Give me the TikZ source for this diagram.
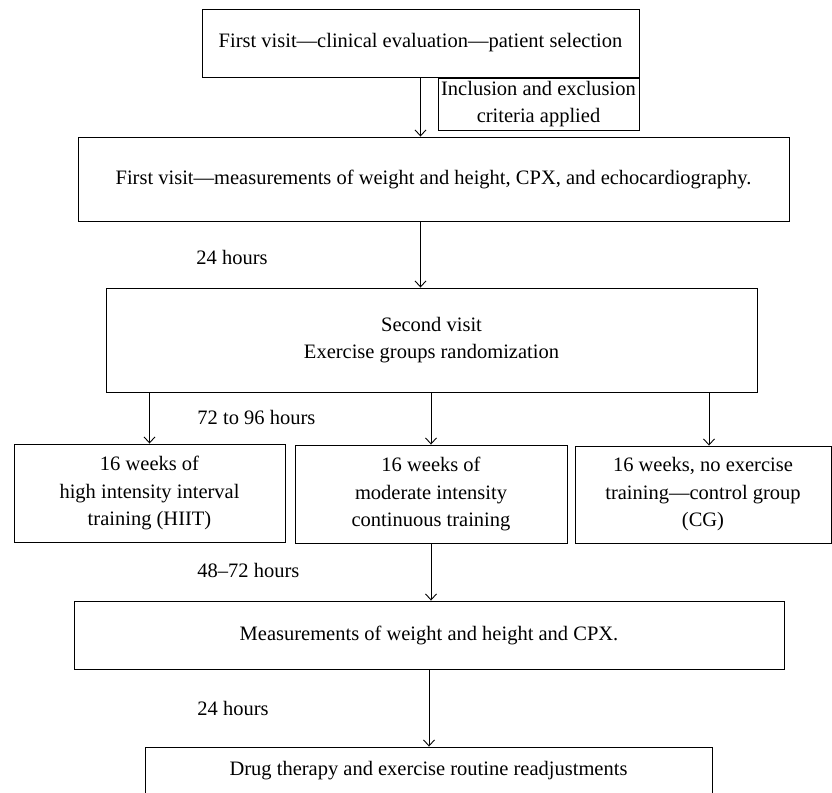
\documentclass[tikz,border=0pt]{standalone}
\usepackage{fontspec}
\setmainfont{Liberation Serif}
\usetikzlibrary{arrows.meta}

\begin{document}
\begin{tikzpicture}[x=1pt,y=-1pt,->,>={Straight Barb[length=6pt,width=11pt]},line width=0.9pt,
		box/.style={draw,rectangle,align=center,inner sep=0pt,font=\fontsize{20.5}{27.5}\selectfont},
		hours/.style={anchor=west,inner sep=0pt,font=\fontsize{20.5}{27.5}\selectfont}]
	\useasboundingbox (0,0) rectangle (832,792);
	\node[box,minimum width=437pt,minimum height=68pt] (visit) at (420.5,43) {First visit---clinical evaluation---patient selection};
	\node[box,minimum width=201pt,minimum height=52pt] (criteria) at (538.5,104) {Inclusion and exclusion\\criteria applied};
	\node[box,minimum width=711pt,minimum height=84pt] (measure) at (433.5,179) {First visit---measurements of weight and height, CPX, and echocardiography.};
	\node[box,minimum width=651pt,minimum height=104pt] (random) at (431.5,340) {Second visit\\Exercise groups randomization};
	\node[box,minimum width=271pt,minimum height=98pt] (hiit) at (149.5,493) {16 weeks of\\high intensity interval\\training (HIIT)};
	\node[box,minimum width=272pt,minimum height=98pt] (mict) at (431,494) {16 weeks of\\moderate intensity\\continuous training};
	\node[box,minimum width=256pt,minimum height=97pt] (control) at (703,494.5) {16 weeks, no exercise\\training---control group\\(CG)};
	\node[box,minimum width=710pt,minimum height=68pt] (remeasure) at (429,635) {Measurements of weight and height and CPX.};
	\node[box,minimum width=567pt,minimum height=47pt] (drug) at (428.5,770.5) {Drug therapy and exercise routine readjustments};
	\node[hours] (h24a) at (196,257) {24 hours};
	\node[hours] (h72) at (197,417) {72 to 96 hours};
	\node[hours] (h48) at (197,570) {48--72 hours};
	\node[hours] (h24b) at (197,708) {24 hours};
	\draw (visit.south) -- (visit.south |- measure.north);
	\draw (visit.south |- measure.south) -- (visit.south |- random.north);
	\draw (hiit.north |- random.south) -- (hiit.north);
	\draw (mict.north |- random.south) -- (mict.north);
	\draw ([xshift=6pt]control.north |- random.south) -- ([xshift=6pt]control.north);
	\draw (mict.south) -- (mict.south |- remeasure.north);
	\draw (remeasure.south) -- (remeasure.south |- drug.north);
\end{tikzpicture}
\end{document}
